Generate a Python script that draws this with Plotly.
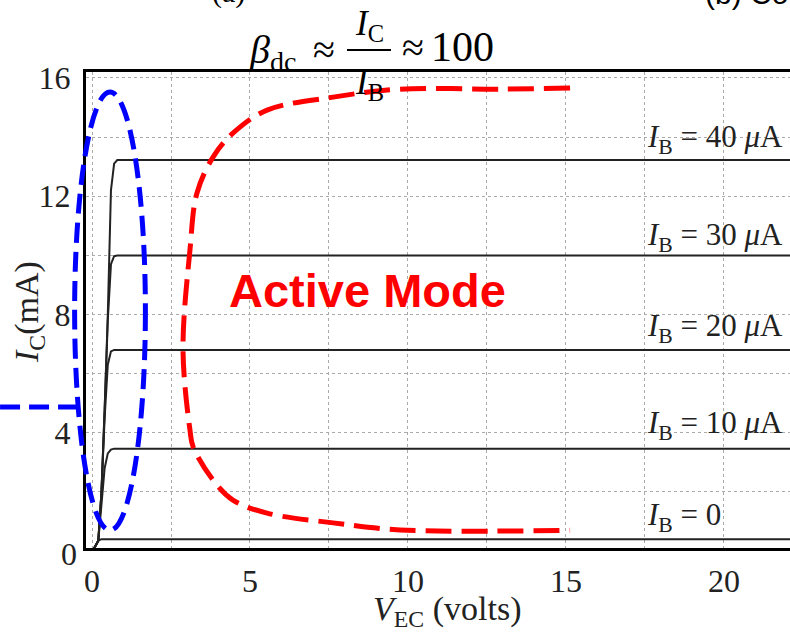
import plotly.graph_objects as go

# ---------------- data ----------------
v_ec = [0, 0.1, 0.2, 0.3, 0.4, 0.5, 0.6, 0.7, 0.8, 1.0, 23]
ic_ib0 = [0, 0.15, 0.35, 0.40, 0.40, 0.40, 0.40, 0.40, 0.40, 0.40, 0.40]
ic_ib10 = [0, 0.15, 0.35, 1.6, 2.8, 3.3, 3.43, 3.46, 3.46, 3.46, 3.46]
ic_ib20 = [0, 0.15, 0.35, 2.0, 4.5, 6.3, 6.75, 6.80, 6.80, 6.80, 6.80]
ic_ib30 = [0, 0.15, 0.35, 2.0, 4.8, 7.8, 9.7, 9.97, 9.99, 9.99, 9.99]
ic_ib40 = [0, 0.15, 0.35, 2.0, 4.8, 8.0, 12.2, 13.1, 13.22, 13.22, 13.22]
curves = [ic_ib0, ic_ib10, ic_ib20, ic_ib30, ic_ib40]
curve_labels = ["<i>I</i><sub>B</sub> = 0",
                "<i>I</i><sub>B</sub> = 10 <i>μ</i>A",
                "<i>I</i><sub>B</sub> = 20 <i>μ</i>A",
                "<i>I</i><sub>B</sub> = 30 <i>μ</i>A",
                "<i>I</i><sub>B</sub> = 40 <i>μ</i>A"]
label_v = 17.5
label_i = [1.15, 4.26, 7.54, 10.62, 13.95]

# red "active mode" boundary (data coords)
red_v = [15.13, 12.9, 9.75, 7.63, 5.54, 4.46, 3.83, 3.32, 3.10, 2.88, 3.10, 3.20, 3.83, 4.46, 5.54, 7.63, 9.75, 15.13]
red_i = [15.66, 15.62, 15.62, 15.35, 14.91, 14.13, 13.32, 12.1, 10.18, 6.8, 4.09, 3.52, 2.4, 1.72, 1.28, 0.95, 0.71, 0.70]

# blue saturation ellipse and marker line (data coords)
sat_center = (0.57, 8.11)
sat_radius = (1.12, 7.41)
sat_line_v = [-2.91, -0.38]
sat_line_i = 4.87

x_ticks = [0, 5, 10, 15, 20]
y_ticks = [0, 4, 8, 12, 16]
XR = [-0.19, 22.09]
YR = [0.1, 16.2]

SERIF = "Liberation Serif"
SANS = "Liberation Sans"


def xp(v):
    return (v - XR[0]) / (XR[1] - XR[0])


def yp(i):
    return (i - YR[0]) / (YR[1] - YR[0])


def pp(px, py):
    return (px - 86) / 704, (548 - py) / 476


fig = go.Figure()
for ic in curves:
    fig.add_trace(go.Scatter(x=v_ec, y=ic, mode="lines",
                             line=dict(color="#222222", width=2),
                             hoverinfo="skip"))

fig.add_trace(go.Scatter(x=red_v, y=red_i, mode="lines",
                         line=dict(color="#ff0000", width=5, dash="26px,10px", shape="spline", smoothing=1.0),
                         hoverinfo="skip"))

bx0, by0 = pp(347, 50)
bx1, _ = pp(391, 50)
shapes = [
    dict(type="circle", xref="paper", yref="paper",
         x0=xp(sat_center[0] - sat_radius[0]), x1=xp(sat_center[0] + sat_radius[0]),
         y0=yp(sat_center[1] - sat_radius[1]), y1=yp(sat_center[1] + sat_radius[1]),
         line=dict(color="#0000ff", width=5, dash="20px,9px"), layer="above"),
    dict(type="line", xref="paper", yref="paper",
         x0=xp(sat_line_v[0]), x1=xp(sat_line_v[1]), y0=yp(sat_line_i), y1=yp(sat_line_i),
         line=dict(color="#0000ff", width=5, dash="20px,9px"), layer="above"),
    # fraction bar of the formula
    dict(type="line", xref="paper", yref="paper", x0=bx0, x1=bx1, y0=by0, y1=by0,
         line=dict(color="black", width=2)),
]

annotations = []
for lab, yi in zip(curve_labels, label_i):
    annotations.append(dict(x=label_v, y=yi, xref="x", yref="y", text=lab, showarrow=False,
                            xanchor="left", yanchor="middle",
                            font=dict(family=SERIF, size=31, color="#222222")))

annotations.append(dict(x=8.72, y=8.82, xref="x", yref="y", text="<b>Active Mode</b>",
                        showarrow=False, xanchor="center", yanchor="middle",
                        font=dict(family=SANS, size=47, color="#ff0000")))

# y tick "0" (sits just below the drawn range)
annotations.append(dict(x=0, y=yp(0), xref="paper", yref="paper", text="0", showarrow=False,
                        xanchor="right", yanchor="middle", xshift=-7, yshift=-3,
                        font=dict(family=SERIF, size=32, color="#222222")))

# axis titles
ax_, ay_ = pp(29, 312)
annotations.append(dict(x=ax_, y=ay_, xref="paper", yref="paper",
                        text="<i>I</i><sub>C</sub>(mA)", textangle=-90, showarrow=False,
                        xanchor="center", yanchor="middle",
                        font=dict(family=SERIF, size=34, color="#222222")))
ax_, ay_ = pp(447, 611)
annotations.append(dict(x=ax_, y=ay_, xref="paper", yref="paper",
                        text="<i>V</i><sub>EC</sub> (volts)", showarrow=False,
                        xanchor="center", yanchor="middle",
                        font=dict(family=SERIF, size=34, color="#222222")))

# formula
formula = [
    ("<i>β</i><sub>dc</sub>", 247, 52, "left", 40),
    ("≈", 324, 50, "center", 40),
    ("<i>I</i><sub>C</sub>", 369, 26, "center", 35),
    ("<i>I</i><sub>B</sub>", 369, 84, "center", 35),
    ("≈", 413, 48, "center", 40),
    ("100", 462, 47, "center", 42),
]
for txt, px, py, anc, sz in formula:
    fx, fy = pp(px, py)
    annotations.append(dict(x=fx, y=fy, xref="paper", yref="paper", text=txt,
                            showarrow=False, xanchor=anc, yanchor="middle",
                            font=dict(family=SERIF, size=sz, color="black")))

# cut-off caption fragments at the very top
fx, fy = pp(228, -8)
annotations.append(dict(x=fx, y=fy, xref="paper", yref="paper", text="(a)",
                        showarrow=False, xanchor="center", yanchor="middle",
                        font=dict(family=SERIF, size=30, color="black")))
fx, fy = pp(703, -6)
annotations.append(dict(x=fx, y=fy, xref="paper", yref="paper", text="(b) Co",
                        showarrow=False, xanchor="left", yanchor="middle",
                        font=dict(family=SANS, size=30, color="black")))

grid = dict(showgrid=True, gridcolor="#aaaaaa", griddash="dot", gridwidth=1)

fig.update_layout(
    width=790, height=636, autosize=False,
    margin=dict(l=86, r=0, t=72, b=88),
    plot_bgcolor="white", paper_bgcolor="white",
    showlegend=False,
    shapes=shapes, annotations=annotations,
    xaxis=dict(range=XR, tickmode="array", tickvals=x_ticks, ticktext=[str(t) for t in x_ticks],
               **grid,
               minor=dict(dtick=2.5, tick0=0, showgrid=True, gridcolor="#aaaaaa", griddash="dot", ticks=""),
               showline=True, linecolor="black", linewidth=3, mirror=True,
               ticks="", zeroline=False, ticklabelstandoff=3,
               tickfont=dict(family=SERIF, size=32, color="#222222")),
    yaxis=dict(range=YR, tickmode="array", tickvals=y_ticks, ticktext=[str(t) for t in y_ticks],
               **grid,
               minor=dict(dtick=2, tick0=0, showgrid=True, gridcolor="#aaaaaa", griddash="dot", ticks=""),
               showline=True, linecolor="black", linewidth=3, mirror=False,
               ticks="", zeroline=False, ticklabelstandoff=6,
               tickfont=dict(family=SERIF, size=32, color="#222222")),
)

fig.write_html("out.html", config={"displayModeBar": False},
               post_script="document.body.style.margin='0';document.body.style.overflow='hidden';")
